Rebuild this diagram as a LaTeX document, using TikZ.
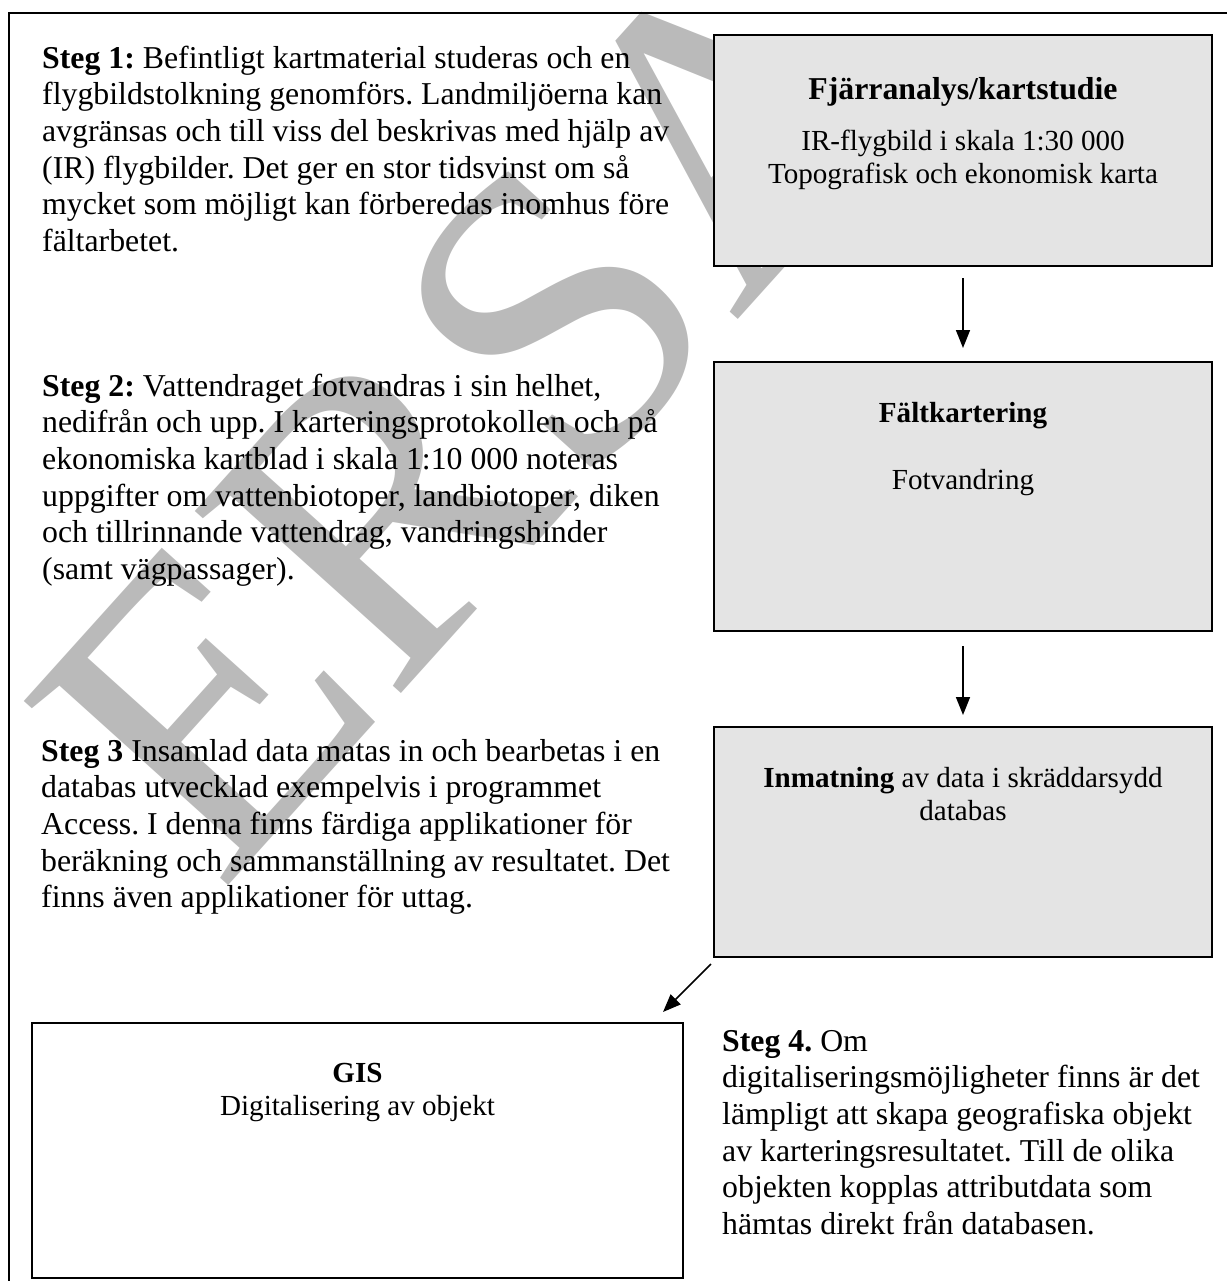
\documentclass[tikz,border=0pt]{standalone}
\usepackage{fontspec}
\setmainfont{Liberation Serif}
\usetikzlibrary{arrows.meta}
\frenchspacing
\newcommand\stegfont{\fontsize{31.8}{36.6}\selectfont}
\newcommand\boxfont{\fontsize{29.1}{33.5}\selectfont}
\definecolor{boxgray}{RGB}{228,228,228}
\definecolor{wmgray}{RGB}{186,186,186}
\tikzset{
  frameline/.style={line width=1.8pt, black},
  stepbox/.style={draw=black, line width=1.8pt, fill=boxgray, rectangle, inner sep=0pt, outer sep=0pt},
  gisbox/.style={draw=black, line width=1.8pt, fill=white, rectangle, inner sep=0pt, outer sep=0pt},
  para/.style={anchor=north west, inner sep=0pt, align=left, font=\stegfont},
  boxtxt/.style={anchor=north, inner sep=0pt, align=center, font=\boxfont},
  arr/.style={line width=1.7pt, -{Triangle[length=18pt,width=14pt]}},
  wm/.style={text=wmgray, inner sep=0pt, font=\fontsize{420}{440}\selectfont}
}
\begin{document}
\begin{tikzpicture}[x=1pt,y=-1pt]
\useasboundingbox (0,0) rectangle (1226,1281);
% watermark
\node[wm, rotate=48, anchor=base west] (wm) at (220,895) {ERSA};
% frame
\coordinate (fbl) at (9,1285);
\coordinate (ftl) at (9,13);
\coordinate (ftr) at (1230,13);
\draw[frameline] (fbl) -- (ftl) -- (ftr);
% boxes
\node[stepbox, minimum width=498pt, minimum height=231pt] (b1) at (963,150.5) {};
\node[stepbox, minimum width=498pt, minimum height=269pt] (b2) at (963,496.5) {};
\node[stepbox, minimum width=498pt, minimum height=230pt] (b3) at (963,842) {};
\node[gisbox, minimum width=651pt, minimum height=255pt] (gis) at (357.5,1150.5) {};
% box texts
\node[anchor=base, inner sep=0pt, font=\stegfont\bfseries] (b1t) at (963,100) {Fjärranalys/kartstudie};
\node[boxtxt] (b1b) at (963,126.5) {\strut IR-flygbild i skala 1:30 000\\Topografisk och ekonomisk karta};
\node[anchor=base, inner sep=0pt, font=\boxfont\bfseries] (b2t) at (963,422) {Fältkartering};
\node[anchor=base, inner sep=0pt, font=\boxfont] (b2b) at (963,489) {Fotvandring};
\node[boxtxt] (b3t) at (963,763.5) {\strut\textbf{Inmatning} av data i skräddarsydd\\databas};
\node[boxtxt] (gist) at (357.5,1058.5) {\strut\textbf{GIS}\\Digitalisering av objekt};
% paragraphs
\node[para] (s1) at (42,42.4) {\strut\textbf{Steg 1:} Befintligt kartmaterial studeras och en\\
flygbildstolkning genomförs. Landmiljöerna kan\\
avgränsas och till viss del beskrivas med hjälp av\\
(IR) flygbilder. Det ger en stor tidsvinst om så\\
mycket som möjligt kan förberedas inomhus före\\
fältarbetet.};
\node[para] (s2) at (42,370.4) {\strut\textbf{Steg 2:} Vattendraget fotvandras i sin helhet,\\
nedifrån och upp. I karteringsprotokollen och på\\
ekonomiska kartblad i skala 1:10 000 noteras\\
uppgifter om vattenbiotoper, landbiotoper, diken\\
och tillrinnande vattendrag, vandringshinder\\
(samt vägpassager).};
\node[para] (s3) at (41,735.4) {\strut\textbf{Steg 3} Insamlad data matas in och bearbetas i en\\
databas utvecklad exempelvis i programmet\\
Access. I denna finns färdiga applikationer för\\
beräkning och sammanställning av resultatet. Det\\
finns även applikationer för uttag.};
\node[para] (s4) at (722,1025.4) {\strut\textbf{Steg 4.} Om\\
digitaliseringsmöjligheter finns är det\\
lämpligt att skapa geografiska objekt\\
av karteringsresultatet. Till de olika\\
objekten kopplas attributdata som\\
hämtas direkt från databasen.};
% arrows
\draw[arr] ([yshift=-12pt]b1.south) -- ([yshift=14pt]b2.north);
\draw[arr] ([yshift=-15pt]b2.south) -- ([yshift=12pt]b3.north);
\draw[arr] ([xshift=-3pt,yshift=-7pt]b3.south west) -- ([xshift=-20pt,yshift=11pt]gis.north east);
\end{tikzpicture}
\end{document}
